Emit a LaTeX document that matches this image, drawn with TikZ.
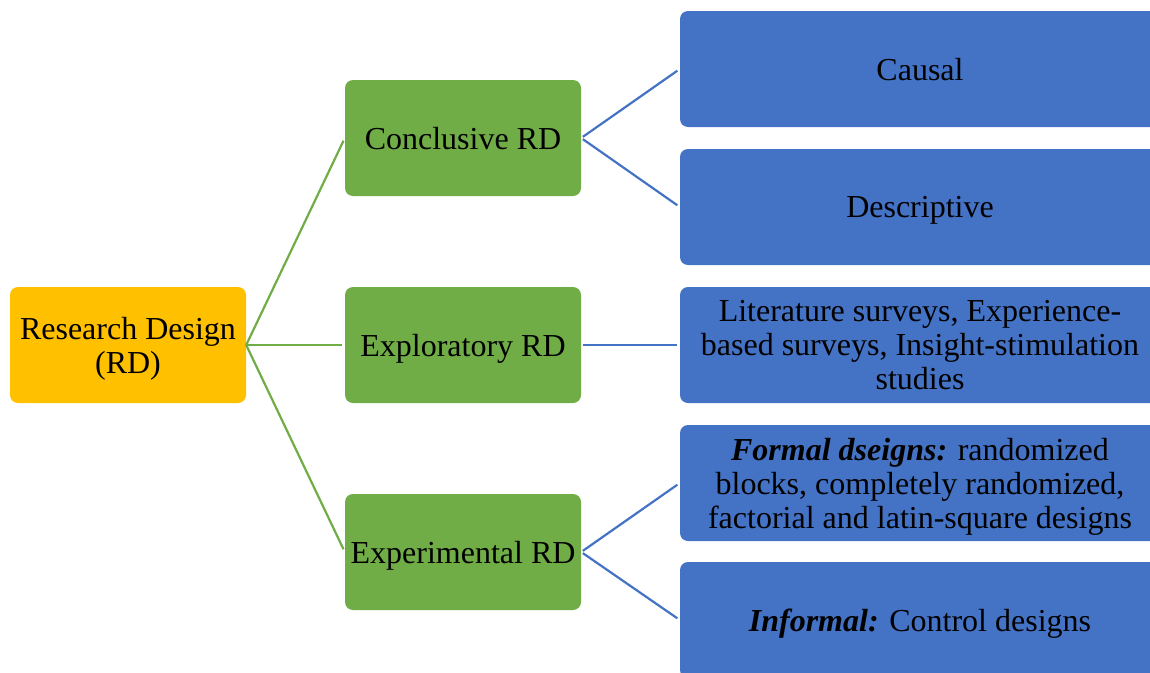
\documentclass[tikz,border=0pt]{standalone}
\usepackage{fontspec}
\setmainfont{Liberation Serif}
\definecolor{rdorange}{HTML}{FFC000}
\definecolor{rdgreen}{HTML}{70AD47}
\definecolor{rdblue}{HTML}{4472C4}
\begin{document}
\begin{tikzpicture}[x=1pt,y=-1pt,
  box/.style={rounded corners=8pt, inner sep=0pt, align=center, text depth=0pt,
    font=\fontsize{32}{34}\selectfont, text=black},
  rootbox/.style={box, fill=rdorange, minimum width=236pt, minimum height=116pt},
  greenbox/.style={box, fill=rdgreen, minimum width=236pt, minimum height=116pt},
  bluebox/.style={box, fill=rdblue, minimum width=480pt, minimum height=116pt},
  gline/.style={draw=rdgreen, line width=2.2pt, shorten >=3pt},
  bline/.style={draw=rdblue, line width=2.2pt, shorten <=2pt, shorten >=3pt}]
\useasboundingbox (0,0) rectangle (1150,672);
\clip (0,0) rectangle (1150,672);
\node[rootbox] (root) at (128,345) {Research Design\\(RD)};
\node[greenbox] (g1) at (463,138) {Conclusive RD};
\node[greenbox] (g2) at (463,345) {Exploratory RD};
\node[greenbox] (g3) at (463,552) {Experimental RD};
\node[bluebox] (b1) at (920,69) {Causal};
\node[bluebox] (b2) at (920,207) {Descriptive};
\node[bluebox] (b3) at (920,345) {Literature surveys, Experience-\\based surveys, Insight-stimulation\\studies};
\node[bluebox] (b4) at (920,483) {\textbf{\textit{Formal dseigns:}} randomized\\blocks, completely randomized,\\factorial and latin-square designs};
\node[bluebox] (b5) at (920,620) {\textbf{\textit{Informal:}} Control designs};
\draw[gline] (root.east) -- (g1.west);
\draw[gline] (root.east) -- (g2.west);
\draw[gline] (root.east) -- (g3.west);
\draw[bline] (g1.east) -- (b1.west);
\draw[bline] (g1.east) -- (b2.west);
\draw[bline] (g2.east) -- (b3.west);
\draw[bline] (g3.east) -- (b4.west);
\draw[bline] (g3.east) -- (b5.west);
\end{tikzpicture}
\end{document}
